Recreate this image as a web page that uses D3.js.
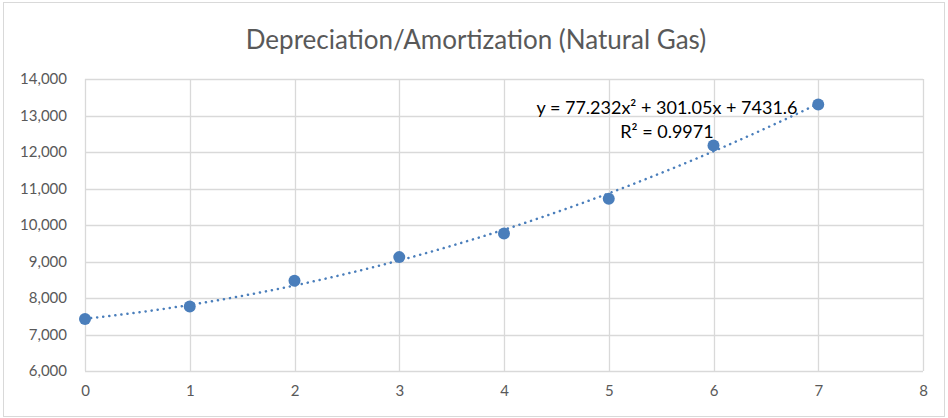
<!DOCTYPE html>
<html>
<head>
<meta charset="utf-8">
<script src="https://cdn.jsdelivr.net/npm/d3@7"></script>
<style>
  body { margin: 0; background: #fff; }
  text { font-family: Lato, "Open Sans", sans-serif; }
</style>
</head>
<body>
<svg id="chart"></svg>
<script>
// data
const years = [0, 1, 2, 3, 4, 5, 6, 7];
const depreciation = [7425, 7765, 8470, 9120, 9770, 10720, 12180, 13300];
const xTicks = [0, 1, 2, 3, 4, 5, 6, 7, 8];
const yTicks = [6000, 7000, 8000, 9000, 10000, 11000, 12000, 13000, 14000];
// polynomial trendline coefficients (c2, c1, c0) as printed on the chart
const trendCoef = [77.232, 301.05, 7431.6];
const trendLabel = ["y = 77.232x² + 301.05x + 7431.6", "R² = 0.9971"];

const W = 948, H = 418;
const margin = { top: 79, right: 25, bottom: 47, left: 85 };
const width = W - margin.left - margin.right;
const height = H - margin.top - margin.bottom;

const svg = d3.select("#chart").attr("width", W).attr("height", H);

// outer chart frame
svg.append("rect")
  .attr("x", 3.5).attr("y", 2.5)
  .attr("width", W - 7).attr("height", H - 4)
  .attr("fill", "#fff")
  .attr("stroke", "#d9d9d9");

// title
svg.append("text")
  .attr("x", 476)
  .attr("y", 49)
  .attr("text-anchor", "middle")
  .style("font-size", "26px")
  .style("fill", "#595959")
  .text("Depreciation/Amortization (Natural Gas)");

const g = svg.append("g")
  .attr("transform", `translate(${margin.left},${margin.top})`);

const x = d3.scaleLinear().domain([0, 8]).range([0, width]);
const y = d3.scaleLinear().domain([6000, 14000]).range([height, 0]);

// gridlines
g.append("g")
  .selectAll("line")
  .data(yTicks)
  .enter()
  .append("line")
  .attr("x1", 0).attr("x2", width)
  .attr("y1", d => Math.round(y(d)) + 0.5)
  .attr("y2", d => Math.round(y(d)) + 0.5)
  .attr("stroke", "#d9d9d9")
  .attr("stroke-width", 1.3);

g.append("g")
  .selectAll("line")
  .data(xTicks)
  .enter()
  .append("line")
  .attr("y1", 0).attr("y2", height)
  .attr("x1", d => Math.round(x(d)) + 0.5)
  .attr("x2", d => Math.round(x(d)) + 0.5)
  .attr("stroke", "#d9d9d9")
  .attr("stroke-width", 1.3);

// y axis labels
const yAxis = g.append("g")
  .call(d3.axisLeft(y).tickValues(yTicks).tickSize(0).tickPadding(18)
    .tickFormat(d3.format(",")));
yAxis.select(".domain").remove();
yAxis.selectAll("text")
  .style("font-size", "15px")
  .style("fill", "#595959")
  .style("font-family", "Lato, sans-serif");

// x axis labels
const xAxis = g.append("g")
  .attr("transform", `translate(0,${height})`)
  .call(d3.axisBottom(x).tickValues(xTicks).tickSize(0).tickPadding(14)
    .tickFormat(d3.format("d")));
xAxis.select(".domain").remove();
xAxis.selectAll("text")
  .style("font-size", "15px")
  .style("fill", "#595959")
  .style("font-family", "Lato, sans-serif");

// trendline (drawn from the printed coefficients)
const trendX = d3.range(0, 7.001, 0.05);
const trend = d3.line()
  .x(d => x(d))
  .y(d => y(trendCoef[0] * d * d + trendCoef[1] * d + trendCoef[2]));

g.append("path")
  .datum(trendX)
  .attr("d", trend)
  .attr("fill", "none")
  .attr("stroke", "#4a7ebb")
  .attr("stroke-width", 2.5)
  .attr("stroke-linecap", "round")
  .attr("stroke-dasharray", "0.1 6");

// data points
g.selectAll(".dot")
  .data(years)
  .enter()
  .append("circle")
  .attr("class", "dot")
  .attr("cx", d => x(d))
  .attr("cy", (d, i) => y(depreciation[i]))
  .attr("r", 6)
  .attr("fill", "#4a7ebb");

// trendline equation
svg.append("text")
  .attr("x", 667)
  .attr("y", 114)
  .attr("text-anchor", "middle")
  .style("font-size", "18px")
  .style("fill", "#000")
  .text(trendLabel[0]);
svg.append("text")
  .attr("x", 667)
  .attr("y", 138)
  .attr("text-anchor", "middle")
  .style("font-size", "18px")
  .style("fill", "#000")
  .text(trendLabel[1]);
</script>
</body>
</html>
